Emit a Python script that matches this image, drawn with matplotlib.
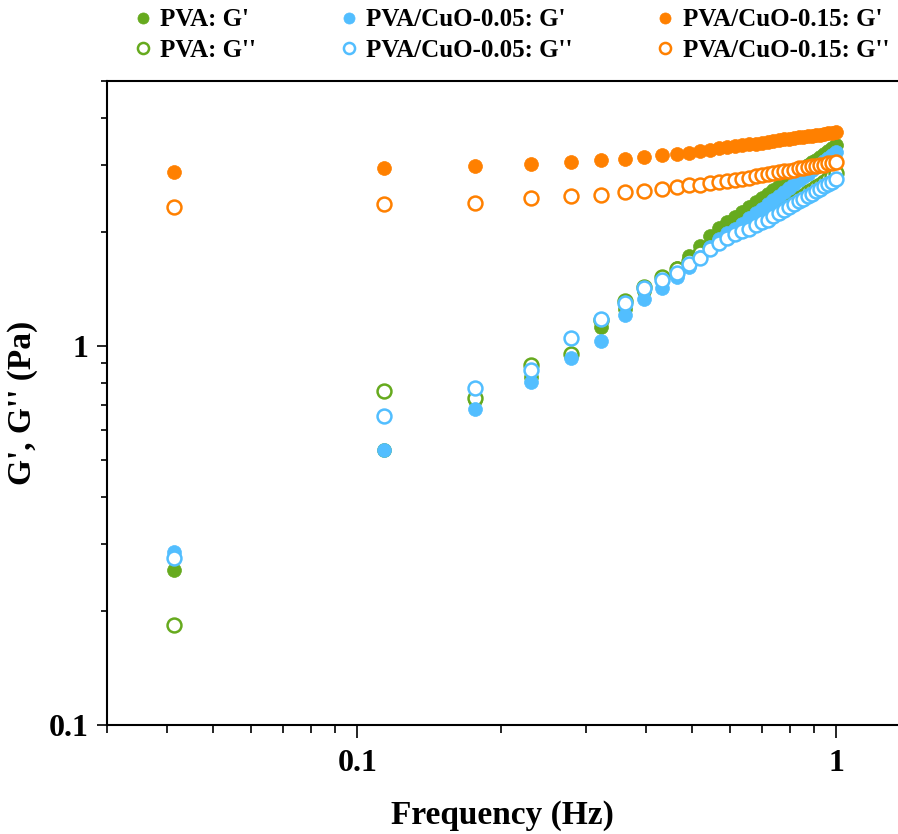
import matplotlib
matplotlib.use('Agg')
import matplotlib.pyplot as plt
from matplotlib.ticker import FixedLocator, LogLocator, NullFormatter

plt.rcParams['font.family'] = ['Liberation Serif', 'DejaVu Serif']
plt.rcParams['font.weight'] = 'bold'

# frequency (Hz)
freq = [0.0415, 0.114, 0.176, 0.231, 0.279, 0.323, 0.363, 0.398, 0.433, 0.465,
        0.493, 0.520, 0.546, 0.570, 0.593, 0.615, 0.637, 0.659, 0.680, 0.700,
        0.720, 0.740, 0.759, 0.779, 0.798, 0.817, 0.836, 0.855, 0.873, 0.891,
        0.909, 0.927, 0.945, 0.963, 0.982, 1.0]

# PVA
pva_g1 = [0.256, 0.53, 0.72, 0.83, 0.951, 1.12, 1.25, 1.40, 1.52, 1.61,
          1.73, 1.84, 1.95, 2.05, 2.12, 2.19, 2.26, 2.33, 2.40, 2.46,
          2.52, 2.58, 2.64, 2.71, 2.76, 2.82, 2.88, 2.93, 3.00, 3.05,
          3.10, 3.16, 3.21, 3.27, 3.32, 3.38]
pva_g2 = [0.184, 0.76, 0.73, 0.89, 0.95, 1.17, 1.31, 1.43, 1.52, 1.60,
          1.68, 1.76, 1.83, 1.89, 1.94, 1.98, 2.02, 2.06, 2.10, 2.14,
          2.18, 2.23, 2.27, 2.31, 2.36, 2.40, 2.45, 2.49, 2.54, 2.58,
          2.62, 2.66, 2.71, 2.75, 2.80, 2.86]

# PVA/CuO-0.05
cu05_g1 = [0.286, 0.532, 0.681, 0.805, 0.932, 1.03, 1.21, 1.33, 1.42, 1.52,
           1.62, 1.72, 1.82, 1.91, 1.98, 2.03, 2.10, 2.17, 2.24, 2.30,
           2.37, 2.43, 2.49, 2.55, 2.61, 2.67, 2.74, 2.79, 2.85, 2.91,
           2.96, 3.02, 3.07, 3.13, 3.19, 3.25]
cu05_g2 = [0.276, 0.652, 0.774, 0.863, 1.05, 1.18, 1.30, 1.42, 1.49, 1.56,
           1.64, 1.71, 1.80, 1.87, 1.93, 1.97, 2.01, 2.04, 2.08, 2.12,
           2.15, 2.20, 2.24, 2.28, 2.32, 2.37, 2.41, 2.44, 2.49, 2.52,
           2.56, 2.60, 2.64, 2.67, 2.71, 2.75]

# PVA/CuO-0.15
cu15_g1 = [2.88, 2.94, 2.98, 3.02, 3.05, 3.09, 3.11, 3.15, 3.18, 3.21,
           3.23, 3.26, 3.29, 3.32, 3.34, 3.36, 3.38, 3.40, 3.42, 3.44,
           3.46, 3.47, 3.49, 3.51, 3.52, 3.53, 3.55, 3.56, 3.58, 3.59,
           3.60, 3.61, 3.63, 3.64, 3.65, 3.66]
cu15_g2 = [2.32, 2.37, 2.38, 2.45, 2.48, 2.50, 2.54, 2.57, 2.59, 2.62,
           2.65, 2.66, 2.69, 2.71, 2.72, 2.74, 2.76, 2.78, 2.80, 2.82,
           2.84, 2.86, 2.87, 2.89, 2.90, 2.92, 2.94, 2.95, 2.96, 2.98,
           2.99, 3.00, 3.01, 3.03, 3.04, 3.05]

green = '#66AA1E'
blue = '#52BEFF'
orange = '#FF8000'

fig = plt.figure(figsize=(8.98, 8.34), dpi=100)
ax = fig.add_axes([0.119, 0.1307, 0.881, 0.7722])

ms = 10
mew = 1.8
series = [
    (pva_g1, green, True, "PVA: G'"),
    (pva_g2, green, False, "PVA: G''"),
    (cu05_g1, blue, True, "PVA/CuO-0.05: G'"),
    (cu05_g2, blue, False, "PVA/CuO-0.05: G''"),
    (cu15_g1, orange, True, "PVA/CuO-0.15: G'"),
    (cu15_g2, orange, False, "PVA/CuO-0.15: G''"),
]
handles = []
for vals, col, filled, lab in series:
    if filled:
        h, = ax.plot(freq, vals, 'o', ls='none', ms=ms, mfc=col, mec=col, mew=0.5, label=lab)
    else:
        h, = ax.plot(freq, vals, 'o', ls='none', ms=ms, mfc='white', mec=col, mew=mew, label=lab)
    handles.append(h)

ax.set_xscale('log')
ax.set_yscale('log')
ax.set_xlim(0.03, 1.347)
ax.set_ylim(0.1, 5)

ax.xaxis.set_major_locator(FixedLocator([0.1, 1]))
ax.yaxis.set_major_locator(FixedLocator([0.1, 1]))
ax.set_xticklabels(['0.1', '1'])
ax.set_yticklabels(['0.1', '1'])
ax.xaxis.set_minor_locator(LogLocator(base=10, subs=range(2, 10)))
ax.yaxis.set_minor_locator(LogLocator(base=10, subs=range(2, 10)))
ax.xaxis.set_minor_formatter(NullFormatter())
ax.yaxis.set_minor_formatter(NullFormatter())

ax.tick_params(axis='both', which='both', direction='out', width=1.2, labelsize=23)
ax.tick_params(axis='x', which='major', length=9, pad=8)
ax.tick_params(axis='x', which='minor', length=6)
ax.tick_params(axis='y', which='major', length=7, pad=6)
ax.tick_params(axis='y', which='minor', length=4)
for lbl in ax.get_xticklabels() + ax.get_yticklabels():
    lbl.set_fontweight('bold')

ax.spines['right'].set_visible(False)
for s in ['left', 'bottom', 'top']:
    ax.spines[s].set_linewidth(1.5)

ax.set_xlabel('Frequency (Hz)', fontsize=24, fontweight='bold', labelpad=16)
ax.set_ylabel("G', G'' (Pa)", fontsize=24, fontweight='bold', labelpad=8)

fig.legend(handles=handles, loc='upper left', bbox_to_anchor=(0.148, 0.99),
           ncol=3, frameon=False, prop={'weight': 'bold', 'size': 18},
           handlelength=0.8, handletextpad=0.3, columnspacing=3.3,
           labelspacing=0.3, borderpad=0, borderaxespad=0, markerscale=0.8)

plt.savefig('out.png', dpi=100)
